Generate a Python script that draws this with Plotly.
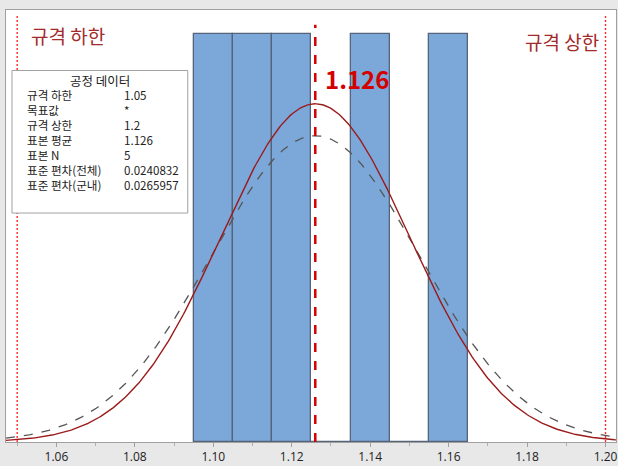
import numpy as np
import plotly.graph_objects as go

# Data
measurements = [1.10, 1.11, 1.12, 1.14, 1.16]
bin_edges = [1.095, 1.105, 1.115, 1.125, 1.135, 1.145, 1.155, 1.165]
lsl = 1.05
usl = 1.2
mean = 1.126
n = 5
sd_overall = 0.0240832
sd_within = 0.0265957
stat_labels = ["규격 하한", "목표값", "규격 상한", "표본 평균", "표본 N", "표준 편차(전체)", "표준 편차(군내)"]
stat_values = ["1.05", "*", "1.2", "1.126", "5", "0.0240832", "0.0265957"]
tick_vals = [1.06, 1.08, 1.10, 1.12, 1.14, 1.16, 1.18, 1.20]
tick_text = ["1.06", "1.08", "1.10", "1.12", "1.14", "1.16", "1.18", "1.20"]

counts, edges = np.histogram(measurements, bins=bin_edges)
centers = [(edges[i] + edges[i + 1]) / 2 for i in range(len(counts))]
binw = edges[1] - edges[0]

xr = [1.04715, 1.20267]
xs = np.linspace(xr[0], xr[1], 400)

def npdf(x, m, s):
    return np.exp(-0.5 * ((x - m) / s) ** 2) / (s * np.sqrt(2 * np.pi))

y_over = npdf(xs, mean, sd_overall) * n * binw
y_within = npdf(xs, mean, sd_within) * n * binw

FONT = "Noto Sans CJK KR"

fig = go.Figure()
fig.add_trace(go.Bar(x=centers, y=counts, width=binw,
                     marker=dict(color="#7ba7d9", line=dict(color="#56647a", width=1.3)),
                     hoverinfo="skip"))
fig.add_trace(go.Scatter(x=xs, y=y_within, mode="lines",
                         line=dict(color="#555555", width=1.3, dash="dash")))
fig.add_trace(go.Scatter(x=xs, y=y_over, mode="lines",
                         line=dict(color="#9b1b1b", width=1.4)))

# spec lines
for v in (lsl, usl):
    fig.add_shape(type="line", x0=v, x1=v, y0=0, y1=1.045, xref="x", yref="y",
                  line=dict(color="#ff2a2a", width=1.4, dash="2px,2px"))
# mean line
fig.add_shape(type="line", x0=mean, x1=mean, y0=0, y1=1.022, xref="x", yref="y",
              line=dict(color="#d40000", width=2.5, dash="dash"))

fig.add_annotation(x=lsl, y=0.995, xref="x", yref="y", text="규격 하한", showarrow=False,
                   xanchor="left", xshift=12, font=dict(family=FONT, size=19, color="#a32a2a"))
fig.add_annotation(x=usl, y=0.98, xref="x", yref="y", text="규격 상한", showarrow=False,
                   xanchor="right", xshift=-5, font=dict(family=FONT, size=19, color="#a32a2a"))
fig.add_annotation(x=mean, y=0.89, xref="x", yref="y", text="<b>%s</b>" % stat_values[3], showarrow=False,
                   xanchor="left", xshift=8, font=dict(family=FONT, size=24, color="#d40000"))

# process data box
fig.add_shape(type="rect", xref="paper", yref="paper", x0=0.0098, x1=0.298, y0=0.530, y1=0.860,
              line=dict(color="#a0a0a0", width=1), fillcolor="white")
fig.add_annotation(xref="paper", yref="paper", x=0.154, y=(446 - 81) / 436, text="공정 데이터", showarrow=False,
                   xanchor="center", yanchor="middle", font=dict(family=FONT, size=12.5, color="#222"))
ymid = (446 - 141) / 436
fig.add_annotation(xref="paper", yref="paper", x=(25 - 6) / 611, y=ymid, text="<br>".join(stat_labels),
                   showarrow=False, xanchor="left", yanchor="middle", align="left",
                   font=dict(family=FONT, size=11.6, color="#222"))
fig.add_annotation(xref="paper", yref="paper", x=(122 - 6) / 611, y=ymid, text="<br>".join(stat_values),
                   showarrow=False, xanchor="left", yanchor="middle", align="left",
                   font=dict(family=FONT, size=11.6, color="#222"))

fig.update_layout(
    width=618, height=466,
    margin=dict(l=6, r=1, t=10, b=20),
    paper_bgcolor="#e8e8e8", plot_bgcolor="white",
    showlegend=False, bargap=0,
    font=dict(family=FONT, size=12, color="#333"),
    xaxis=dict(range=xr, tickvals=tick_vals, ticktext=tick_text,
               showgrid=False, zeroline=False, showline=True, linecolor="#a0a0a0", mirror=True,
               ticks="outside", ticklen=4, tickcolor="#a0a0a0",
               minor=dict(dtick=0.01, tick0=1.05, ticks="outside", ticklen=3, tickcolor="#b0b0b0"),
               tickfont=dict(family="Open Sans", size=12, color="#222")),
    yaxis=dict(range=[0, 1.058], showgrid=False, zeroline=False, showticklabels=False,
               showline=True, linecolor="#a0a0a0", mirror=True, ticks=""),
)

fig.write_html("out.html", post_script="document.body.style.margin='0';",
               config={"displayModeBar": False})
